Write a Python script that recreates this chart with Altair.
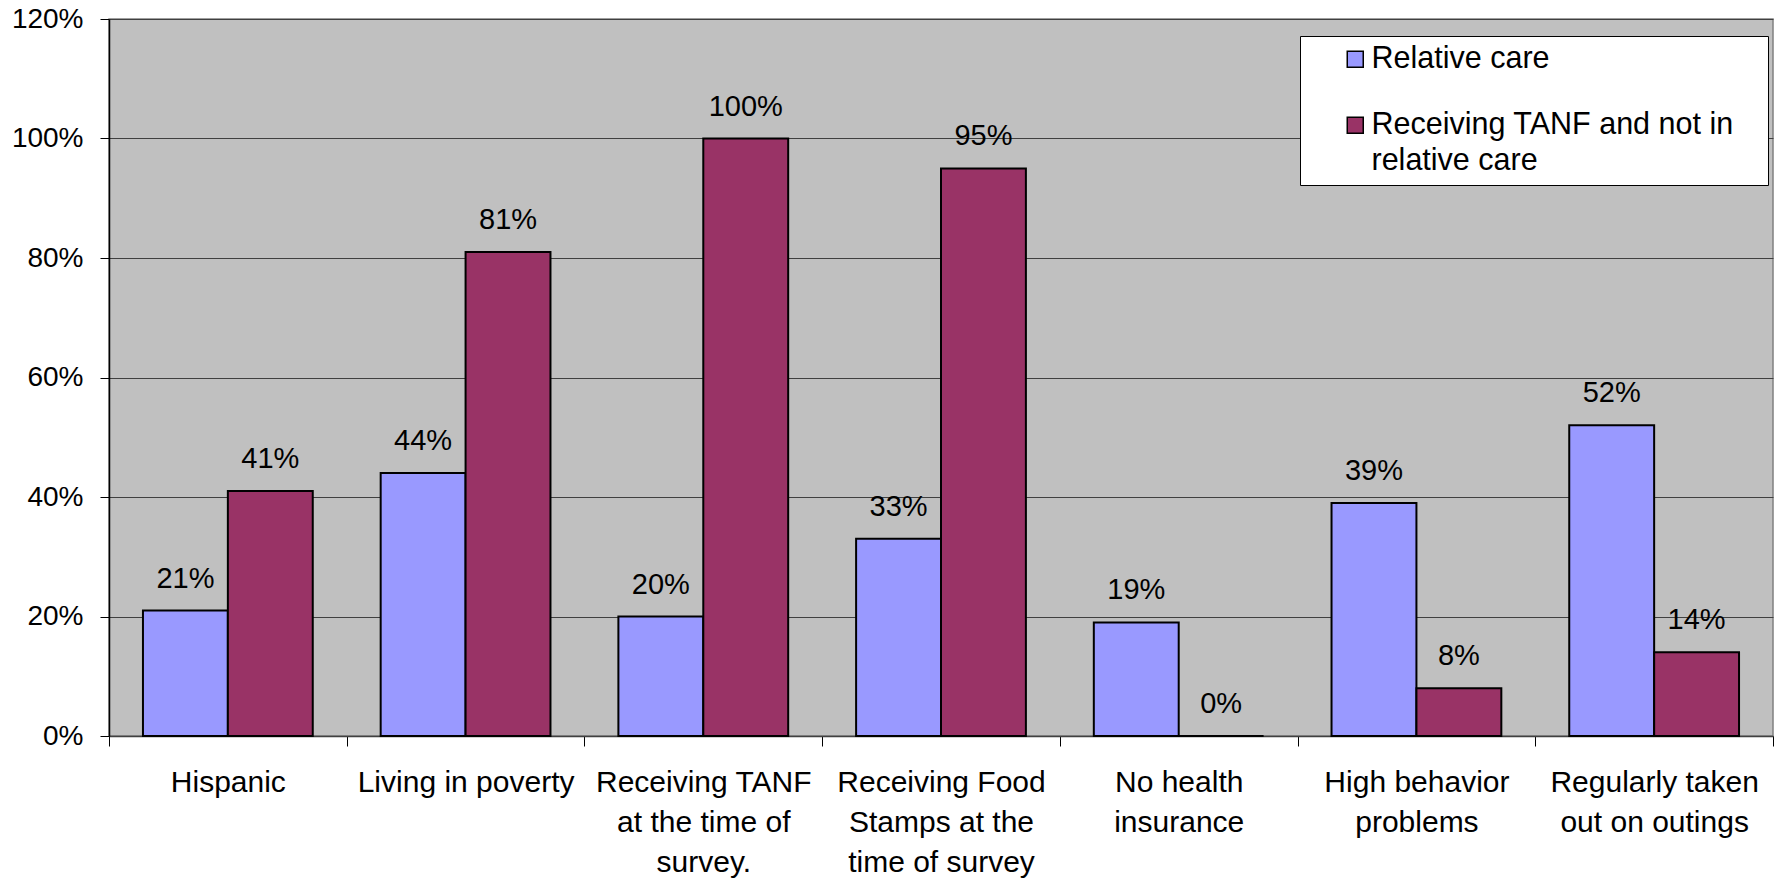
import altair as alt
import pandas as pd

# Category labels, one list of lines per category
category_lines = [
    ["Hispanic"],
    ["Living in poverty"],
    ["Receiving TANF", "at the time of", "survey."],
    ["Receiving Food", "Stamps at the", "time of survey"],
    ["No health", "insurance"],
    ["High behavior", "problems"],
    ["Regularly taken", "out on outings"],
]
categories = ["\n".join(lines) for lines in category_lines]

series = ["Relative care", "Receiving TANF and not in relative care"]
series_colors = ["#9999FF", "#993366"]

relative_care = [0.21, 0.44, 0.20, 0.33, 0.19, 0.39, 0.52]
tanf_not_relative = [0.41, 0.81, 1.00, 0.95, 0.00, 0.08, 0.14]

rows = []
for cat, a, b in zip(categories, relative_care, tanf_not_relative):
    rows.append({"category": cat, "series": series[0], "value": a})
    rows.append({"category": cat, "series": series[1], "value": b})
df = pd.DataFrame(rows)

FONT = "Liberation Sans"
# Trailing non-breaking spaces (closed by a zero-width space so they are not
# trimmed) keep the legend box wider than its longest line.
PAD = "\u00a0" * 3 + "\u200b"

# Long legend entry wraps onto two lines
legend_label_expr = (
    "datum.label == '" + series[1] + "' ? "
    "['Receiving TANF and not in" + PAD + "', 'relative care'] : datum.label"
)

x_enc = alt.X(
    "category:N",
    sort=categories,
    title=None,
    scale=alt.Scale(paddingInner=0, paddingOuter=0),
    axis=alt.Axis(
        labelExpr="split(datum.label, '\\n')",
        labelAngle=0,
        labelFontSize=30,
        labelFont=FONT,
        labelColor="black",
        labelLineHeight=40,
        labelPadding=21,
        labelLimit=400,
        tickBand="extent",
        tickSize=10,
        tickColor="black",
        tickWidth=1,
        domainColor="#404040",
        domainWidth=1.5,
        grid=False,
    ),
)
xoff_enc = alt.XOffset(
    "series:N", sort=series, scale=alt.Scale(paddingInner=0, paddingOuter=0.4)
)
y_enc = alt.Y(
    "value:Q",
    title=None,
    scale=alt.Scale(domain=[0, 1.2], nice=False),
    axis=alt.Axis(
        values=[0, 0.2, 0.4, 0.6, 0.8, 1.0, 1.2],
        format=".0%",
        labelFontSize=28,
        labelFont=FONT,
        labelColor="black",
        labelPadding=17,
        tickSize=9,
        tickColor="black",
        tickWidth=1,
        domainColor="black",
        domainWidth=1.5,
        grid=True,
        gridColor="#404040",
        gridWidth=1,
    ),
)

bars = alt.Chart(df).mark_bar(stroke="black", strokeWidth=2).encode(
    x=x_enc,
    xOffset=xoff_enc,
    y=y_enc,
    color=alt.Color(
        "series:N",
        sort=series,
        scale=alt.Scale(domain=series, range=series_colors),
        legend=alt.Legend(
            title=None,
            orient="none",
            legendX=1191,
            legendY=17,
            fillColor="white",
            strokeColor="black",
            padding=8,
            symbolType="square",
            symbolSize=256,
            symbolStrokeColor="black",
            symbolStrokeWidth=1.5,
            symbolOffset=32,
            labelFontSize=30.5,
            labelFont=FONT,
            labelColor="black",
            labelOffset=1,
            labelLimit=700,
            rowPadding=35,
            labelExpr=legend_label_expr,
        ),
    ),
)

labels = alt.Chart(df).mark_text(
    dy=-23, baseline="alphabetic", fontSize=29, font=FONT, color="black"
).encode(
    x=alt.X("category:N", sort=categories),
    xOffset=alt.XOffset("series:N", sort=series),
    y=alt.Y("value:Q"),
    text=alt.Text("value:Q", format=".0%"),
)

chart = (
    alt.layer(bars, labels)
    .properties(
        width=1664,
        height=717,
        autosize=alt.AutoSizeParams(type="none"),
        padding={"left": 109, "top": 19, "right": 9, "bottom": 143},
        background="white",
    )
    .configure(style={"guide-label": {"lineHeight": 36}})
    .configure_view(fill="#C0C0C0", stroke="#808080", strokeWidth=1.5)
)

chart.save("out.html", embed_options={"renderer": "svg", "actions": False})
